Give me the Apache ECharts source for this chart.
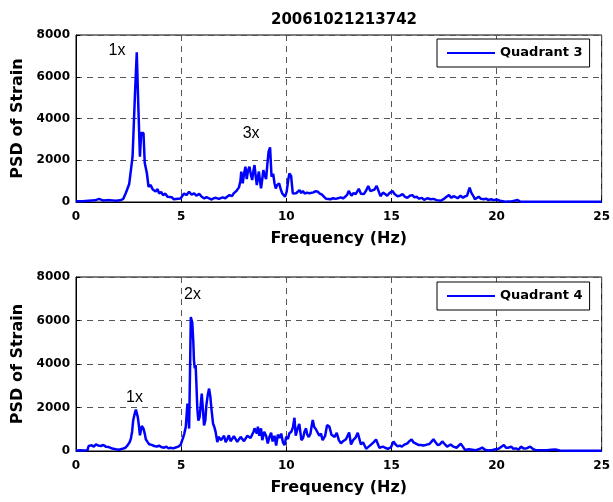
<!DOCTYPE html>
<html>
<head>
<meta charset="utf-8">
<title>PSD of Strain</title>
<script src="https://cdn.jsdelivr.net/npm/echarts@6/dist/echarts.min.js"></script>
<style>
  html, body { margin: 0; padding: 0; background: #fff; }
  #chart { width: 613px; height: 502px; }
</style>
</head>
<body>
<div id="chart"></div>
<script>
// Frequency axis (Hz) and tick settings
const freqTicks = [0, 5, 10, 15, 20, 25];
const psdTicks = [0, 2000, 4000, 6000, 8000];

// Quadrant 3 spectrum
const q3Freq = [0.0,0.3,0.6,0.9,1.1,1.3,1.6,1.9,2.1,2.25,2.37,2.53,2.69,2.8,2.89,2.97,3.04,3.1,3.21,3.27,3.37,3.45,3.55,3.65,3.79,3.88,3.95,4.05,4.14,4.25,4.35,4.43,4.55,4.65,4.74,4.85,4.98,5.06,5.14,5.25,5.38,5.5,5.62,5.72,5.86,5.98,6.1,6.2,6.33,6.45,6.55,6.65,6.8,6.97,7.1,7.2,7.3,7.42,7.5,7.62,7.75,7.82,7.86,7.93,8.0,8.06,8.12,8.18,8.25,8.32,8.38,8.44,8.49,8.55,8.6,8.65,8.7,8.75,8.8,8.86,8.91,8.97,9.04,9.1,9.16,9.23,9.3,9.38,9.44,9.5,9.56,9.66,9.74,9.81,9.88,9.94,10.02,10.1,10.15,10.23,10.31,10.4,10.47,10.55,10.63,10.71,10.79,10.88,10.98,11.1,11.19,11.3,11.4,11.5,11.6,11.7,11.8,11.9,11.99,12.1,12.23,12.35,12.5,12.6,12.7,12.8,12.9,12.97,13.1,13.2,13.3,13.38,13.45,13.55,13.69,13.8,13.9,14.0,14.08,14.2,14.3,14.4,14.48,14.6,14.7,14.8,14.9,15.05,15.15,15.29,15.4,15.53,15.65,15.76,15.88,16.0,16.1,16.2,16.32,16.45,16.56,16.7,16.87,17.0,17.15,17.35,17.5,17.62,17.74,17.85,17.95,18.05,18.15,18.29,18.4,18.5,18.6,18.72,18.8,18.85,18.92,18.97,19.05,19.15,19.25,19.4,19.5,19.6,19.75,19.85,20.0,20.17,20.3,20.4,20.55,20.7,20.85,21.0,21.1,21.2,21.5,22.0,23.0,24.0,25.0];
const q3Psd = [30,40,60,80,150,70,90,60,80,150,430,860,2170,5040,7170,4400,2170,3300,3300,1870,1390,730,810,600,500,620,410,480,330,400,250,170,230,130,100,160,170,300,410,330,490,350,420,300,390,250,170,230,170,120,180,200,150,220,180,260,330,280,410,520,700,1000,1450,895,1400,1690,1100,1500,1690,1300,1050,1500,1770,1200,810,1200,1460,1000,650,1100,1530,1300,1100,1800,2410,2620,1210,1350,900,650,800,890,600,410,330,250,500,1100,1370,1250,410,500,420,480,570,430,530,400,450,420,380,460,520,490,400,350,250,150,200,130,180,150,190,220,170,250,350,530,300,430,380,450,630,400,380,550,770,520,430,600,770,500,280,450,380,300,420,530,380,280,300,380,250,200,300,330,220,250,160,200,100,180,130,150,90,60,150,250,330,200,280,240,180,300,200,270,300,690,450,430,250,130,200,250,160,130,160,100,130,90,120,60,40,10,20,30,60,100,30,15,10,10,10,10,10];

// Quadrant 4 spectrum
const q4Freq = [0.0,0.2,0.4,0.55,0.6,0.75,0.85,0.95,1.05,1.19,1.3,1.42,1.55,1.66,1.78,1.9,2.05,2.21,2.35,2.45,2.55,2.61,2.67,2.72,2.8,2.85,2.94,3.0,3.04,3.1,3.13,3.21,3.27,3.32,3.4,3.48,3.6,3.72,3.85,3.95,4.05,4.19,4.3,4.4,4.5,4.62,4.74,4.86,4.98,5.09,5.15,5.22,5.3,5.35,5.38,5.42,5.46,5.53,5.58,5.61,5.65,5.69,5.73,5.77,5.82,5.88,5.93,5.98,6.03,6.09,6.15,6.2,6.27,6.33,6.39,6.44,6.52,6.58,6.64,6.72,6.78,6.83,6.9,6.96,7.04,7.12,7.2,7.27,7.35,7.43,7.51,7.59,7.67,7.75,7.83,7.91,7.99,8.07,8.15,8.22,8.3,8.38,8.45,8.49,8.54,8.6,8.65,8.72,8.8,8.86,8.95,9.04,9.12,9.2,9.28,9.35,9.44,9.52,9.6,9.68,9.76,9.84,9.92,10.0,10.08,10.15,10.25,10.32,10.39,10.45,10.53,10.62,10.66,10.72,10.8,10.87,10.94,11.0,11.07,11.15,11.2,11.26,11.33,11.41,11.46,11.57,11.65,11.73,11.85,11.94,12.05,12.15,12.22,12.3,12.4,12.5,12.6,12.7,12.84,12.93,12.99,13.08,13.18,13.3,13.4,13.47,13.55,13.65,13.8,13.92,14.03,14.15,14.27,14.34,14.43,14.52,14.6,14.7,14.83,14.98,15.1,15.2,15.3,15.4,15.5,15.6,15.76,15.85,15.96,16.05,16.15,16.28,16.39,16.5,16.63,16.8,16.9,17.0,17.1,17.2,17.3,17.42,17.55,17.65,17.82,17.95,18.1,18.3,18.4,18.5,18.69,18.85,19.0,19.15,19.32,19.45,19.6,19.8,19.96,20.1,20.35,20.45,20.55,20.7,20.8,20.92,21.05,21.16,21.3,21.45,21.6,21.75,21.9,22.1,22.4,22.6,22.8,23.0,23.5,24.0,25.0];
const q4Psd = [20,30,20,40,230,260,200,310,250,230,280,200,180,140,100,80,60,100,150,260,400,570,900,1410,1750,1900,1560,1100,720,1000,1150,1030,800,540,420,310,280,230,200,250,180,150,200,120,150,120,160,200,290,600,800,1100,2180,1600,1030,3500,6160,5900,5000,4170,3800,3950,3000,1950,1400,1560,2100,2640,2000,1180,1400,2100,2600,2870,2500,1950,1250,1100,880,410,650,720,500,570,700,410,560,720,450,540,680,610,420,500,650,610,450,540,700,790,600,680,900,1040,1010,800,1120,700,1040,500,880,700,350,650,840,440,700,250,750,600,800,400,275,660,550,820,900,1100,1530,700,1000,1250,1190,500,600,900,1040,750,640,800,1100,1430,1100,1000,1040,700,800,500,700,1190,1120,750,800,650,840,500,350,450,540,600,850,300,500,620,840,890,300,400,100,200,290,400,530,580,150,200,200,150,100,170,440,300,210,250,200,280,350,450,530,400,350,280,280,250,280,320,420,540,400,280,300,440,300,200,300,200,150,340,200,50,80,60,30,80,160,60,20,50,80,100,280,150,150,200,100,120,60,200,110,130,200,80,30,40,30,60,70,20,15,15,15];

// Harmonic annotations: [frequency, psd, text]
const q3Notes = [[1.95, 7230, '1x'], [8.33, 3260, '3x']];
const q4Notes = [[2.78, 2440, '1x'], [5.54, 7180, '2x']];

const pairs = (xs, ys) => xs.map((x, i) => [x, ys[i]]);
const BOLD = 'DejaVu Sans';

function xAxisFor(gridIndex) {
  return {
    type: 'value', gridIndex, min: 0, max: 25, interval: 5,
    name: 'Frequency (Hz)', nameLocation: 'middle', nameGap: 29,
    nameTextStyle: { fontFamily: BOLD, fontWeight: 'bold', fontSize: 16, color: '#000' },
    axisLine: { show: true, onZero: false, lineStyle: { color: '#000', width: 1 } },
    axisTick: { show: true, inside: true, length: 4, lineStyle: { color: '#000' } },
    axisLabel: {
      margin: 9, color: '#000', fontFamily: BOLD, fontWeight: 'bold', fontSize: 12,
      formatter: v => freqTicks.includes(v) ? String(v) : ''
    },
    splitLine: { show: true, lineStyle: { color: '#555', type: [6, 5], width: 1 } }
  };
}

function yAxisFor(gridIndex) {
  return {
    type: 'value', gridIndex, min: 0, max: 8000, interval: 2000,
    name: 'PSD of Strain', nameLocation: 'middle', nameGap: 50, nameRotate: 90,
    nameTextStyle: { fontFamily: BOLD, fontWeight: 'bold', fontSize: 16, color: '#000' },
    axisLine: { show: true, lineStyle: { color: '#000', width: 1 } },
    axisTick: { show: true, inside: true, length: 4, lineStyle: { color: '#000' } },
    axisLabel: {
      margin: 6, color: '#000', fontFamily: BOLD, fontWeight: 'bold', fontSize: 12,
      formatter: v => psdTicks.includes(v) ? String(v) : ''
    },
    splitLine: { show: true, lineStyle: { color: '#555', type: [6, 5], width: 1 } }
  };
}

function noteMarks(notes) {
  return {
    symbol: 'circle', symbolSize: 0, silent: true,
    label: {
      show: true, position: 'inside', formatter: '{b}',
      color: '#000', fontFamily: 'Liberation Sans', fontSize: 16, fontWeight: 'normal'
    },
    data: notes.map(n => ({ name: n[2], coord: [n[0], n[1]] }))
  };
}

function psdSeries(name, idx, xs, ys, notes) {
  return {
    name, type: 'line', xAxisIndex: idx, yAxisIndex: idx,
    data: pairs(xs, ys), showSymbol: false, symbol: 'none', animation: false,
    lineStyle: { color: '#0000ff', width: 2.5 }, itemStyle: { color: '#0000ff' },
    markPoint: noteMarks(notes)
  };
}

function legendFor(name, top) {
  return {
    data: [{ name, icon: 'rect' }], left: 437, top, orient: 'horizontal',
    backgroundColor: '#fff', borderColor: '#000', borderWidth: 1,
    padding: [7, 7, 7, 10], itemWidth: 48, itemHeight: 2,
    itemStyle: { color: '#0000ff' },
    textStyle: { fontFamily: BOLD, fontWeight: 'bold', fontSize: 13, color: '#000', lineHeight: 14 }
  };
}

const chart = echarts.init(document.getElementById('chart'), null, { renderer: 'canvas' });
chart.setOption({
  backgroundColor: '#fff',
  animation: false,
  title: {
    text: '20061021213742', left: 339, top: 8, textAlign: 'center',
    textStyle: { fontFamily: BOLD, fontWeight: 'bold', fontSize: 15, color: '#000' }
  },
  grid: [
    { left: 76, right: 10, top: 35, height: 167, show: true, borderColor: '#000', borderWidth: 1, backgroundColor: 'transparent' },
    { left: 76, right: 10, top: 277, height: 174, show: true, borderColor: '#000', borderWidth: 1, backgroundColor: 'transparent' }
  ],
  legend: [legendFor('Quadrant 3', 39), legendFor('Quadrant 4', 282)],
  xAxis: [xAxisFor(0), xAxisFor(1)],
  yAxis: [yAxisFor(0), yAxisFor(1)],
  series: [
    psdSeries('Quadrant 3', 0, q3Freq, q3Psd, q3Notes),
    psdSeries('Quadrant 4', 1, q4Freq, q4Psd, q4Notes)
  ]
});
</script>
</body>
</html>
